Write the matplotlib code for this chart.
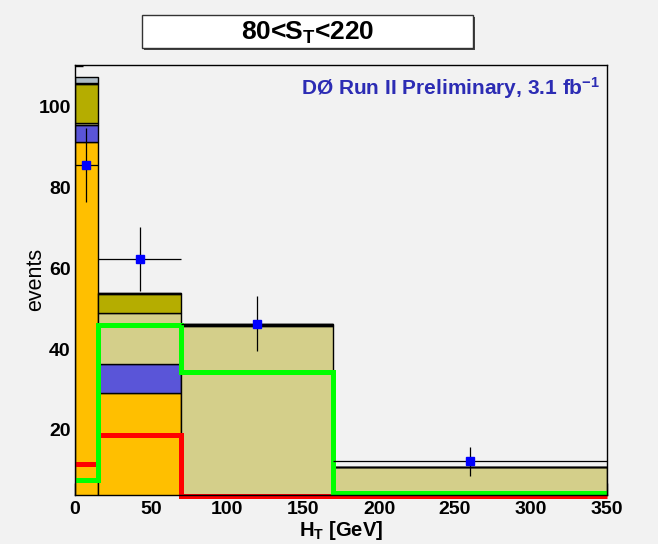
import numpy as np
import matplotlib
matplotlib.use('Agg')
import matplotlib.pyplot as plt
from matplotlib.patches import Rectangle
from matplotlib.ticker import MultipleLocator

plt.rcParams['font.family'] = ['Liberation Sans', 'DejaVu Sans']
plt.rcParams['mathtext.fontset'] = 'custom'
plt.rcParams['mathtext.rm'] = 'Liberation Sans'
plt.rcParams['mathtext.bf'] = 'Liberation Sans:bold'
plt.rcParams['mathtext.it'] = 'Liberation Sans:italic'

# bins in H_T [GeV]
edges = [0, 15, 70, 170, 350]

# stacked background contributions per bin
orange = [91.3, 29.1, 0.0, 0.0]
blue = [4.1, 7.2, 0.0, 0.0]
tan = [0.6, 12.6, 45.8, 10.9]
olive = [9.6, 4.7, 0.2, 0.0]
dark = [0.3, 0.3, 0.2, 0.0]
grey = [1.4, 0.0, 0.0, 0.0]

# signal overlays
red = [11.6, 18.8, 3.6, 3.6]
green = [7.7, 46.0, 34.4, 4.3]

# data
data_x = [7.5, 42.5, 120, 260]
data_y = [85.5, 62.3, 46.3, 12.2]
data_err = [9.2, 7.9, 6.8, 3.5]

bg = '#f2f2f2'
fig = plt.figure(figsize=(6.58, 5.44), dpi=100, facecolor=bg)
ax = fig.add_axes([0.114, 0.0901, 0.8085, 0.791])
ax.set_facecolor(bg)

lefts = np.array(edges[:-1], dtype=float)
widths = np.diff(edges).astype(float)

bottom = np.zeros(len(lefts))
layers = [(orange, '#ffbf00'), (blue, '#5a55d8'), (tan, '#d4cf8a'),
          (olive, '#b5ad00'), (dark, '#222222'), (grey, '#aebcc6')]
for vals, col in layers:
    vals = np.array(vals)
    ax.bar(lefts, vals, width=widths, bottom=bottom, align='edge',
           color=col, edgecolor='black', linewidth=1, zorder=2)
    bottom = bottom + vals

ax.stairs(red, edges, baseline=None, color='#ff0000', lw=3.6, zorder=3, clip_on=False)
ax.stairs(green, edges, baseline=None, color='#00ff00', lw=3.6, zorder=4, clip_on=False)

ax.errorbar(data_x, data_y, xerr=widths / 2, yerr=data_err, fmt='s',
            color='#0000ff', ecolor='black', elinewidth=0.9, capsize=0,
            ms=6, mec='#0000ff', zorder=5)

ax.set_xlim(0, 350)
ax.set_ylim(3.9, 110.4)
ax.xaxis.set_major_locator(MultipleLocator(50))
ax.xaxis.set_minor_locator(MultipleLocator(10))
ax.yaxis.set_major_locator(MultipleLocator(20))
ax.yaxis.set_minor_locator(MultipleLocator(5))
ax.tick_params(axis='both', which='both', direction='in', top=False, right=False,
               width=1, labelsize=14)
ax.tick_params(axis='x', which='major', length=8.6, pad=4)
ax.tick_params(axis='x', which='minor', length=4.3)
ax.tick_params(axis='y', which='major', length=10.8, pad=3)
ax.tick_params(axis='y', which='minor', length=5.4)
for lab in ax.get_xticklabels() + ax.get_yticklabels():
    lab.set_fontweight('bold')
for s in ax.spines.values():
    s.set_linewidth(1)
    s.set_zorder(6)

# axis titles
fig.text(341 / 658, 1 - 536 / 544, 'H$_\\mathbf{T}$ [GeV]', ha='center', va='baseline',
         fontsize=14.5, fontweight='bold')
fig.text(36 / 658, 1 - 279 / 544, 'events', ha='center', va='center',
         rotation=90, fontsize=15.5)

# experiment label
fig.text(600 / 658, 1 - 95 / 544, 'DØ Run II Preliminary, 3.1 fb$^{\\mathbf{-1}}$',
         ha='right', va='baseline', fontsize=15, fontweight='bold', color='#2c2cb4')

# title box
bx, by, bw, bh = 141.7 / 658, 1 - 48.3 / 544, 331.6 / 658, 33.3 / 544
fig.patches.append(Rectangle((bx + 2 / 658, by - 2 / 544), bw, bh, transform=fig.transFigure,
                             facecolor='#444444', edgecolor='none', zorder=1))
fig.patches.append(Rectangle((bx, by), bw, bh, transform=fig.transFigure,
                             facecolor='white', edgecolor='#333333', lw=1, zorder=2))
fig.text(307.5 / 658, 1 - 39.5 / 544, '80<S$_\\mathbf{T}$<220', ha='center', va='baseline',
         fontsize=19, fontweight='bold', zorder=3)

fig.savefig('out.png', dpi=100, facecolor=bg)
